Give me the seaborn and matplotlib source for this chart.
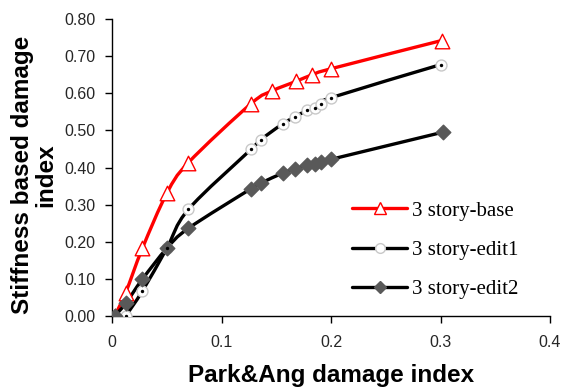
import matplotlib
matplotlib.use("Agg")
import numpy as np
import pandas as pd
import seaborn as sns
import matplotlib.pyplot as plt
from matplotlib.path import Path
from matplotlib.patches import PathPatch
from matplotlib.lines import Line2D

# Park&Ang damage index (x) vs stiffness based damage index (y)
base_x = [0.0025, 0.0125, 0.0277, 0.050, 0.0697, 0.127, 0.146, 0.168, 0.183, 0.200, 0.301]
base_y = [0.000, 0.063, 0.182, 0.330, 0.413, 0.572, 0.606, 0.632, 0.650, 0.666, 0.742]

edit1_x = [0.0125, 0.0277, 0.050, 0.0697, 0.127, 0.136, 0.156, 0.167, 0.178, 0.185, 0.191, 0.200, 0.300]
edit1_y = [0.000, 0.067, 0.182, 0.287, 0.449, 0.475, 0.518, 0.536, 0.554, 0.561, 0.572, 0.588, 0.677]

edit2_x = [0.0025, 0.0125, 0.0277, 0.050, 0.0697, 0.127, 0.136, 0.156, 0.167, 0.178, 0.185, 0.191, 0.200, 0.302]
edit2_y = [0.000, 0.034, 0.099, 0.182, 0.236, 0.343, 0.358, 0.385, 0.396, 0.406, 0.410, 0.415, 0.422, 0.495]

series_names = ["3 story-base", "3 story-edit1", "3 story-edit2"]
x_ticks = [0, 0.1, 0.2, 0.3, 0.4]
x_tick_labels = ["0", "0.1", "0.2", "0.3", "0.4"]
y_ticks = [0.0, 0.1, 0.2, 0.3, 0.4, 0.5, 0.6, 0.7, 0.8]

sns.set_theme(style="white")
plt.rcParams["font.family"] = ["Liberation Sans", "DejaVu Sans"]

fig = plt.figure(figsize=(5.65, 3.87), dpi=100)
ax = fig.add_axes([112 / 565, 1 - 316 / 387, 438 / 565, 297 / 387])


def smooth_path(xs, ys, k=1 / 6):
    """Cubic Bezier path through the points (Catmull-Rom style smoothing)."""
    pts = np.column_stack([xs, ys]).astype(float)
    n = len(pts)
    verts = [pts[0]]
    codes = [Path.MOVETO]
    for i in range(n - 1):
        p0 = pts[i - 1] if i > 0 else pts[i]
        p1 = pts[i]
        p2 = pts[i + 1]
        p3 = pts[i + 2] if i + 2 < n else pts[i + 1]
        c1 = p1 + (p2 - p0) * k
        c2 = p2 - (p3 - p1) * k
        verts += [c1, c2, p2]
        codes += [Path.CURVE4] * 3
    return Path(verts, codes)


series = [
    dict(x=base_x, y=base_y, color="#ff0000", marker="^", face="white", edge="#ff0000", size=110, ms=8),
    dict(x=edit1_x, y=edit1_y, color="black", marker="o", face="white", edge="#c8c8c8", size=62, ms=7),
    dict(x=edit2_x, y=edit2_y, color="black", marker="D", face="#595959", edge="#595959", size=55, ms=6),
]

handles = []
for name, s in zip(series_names, series):
    ax.add_patch(PathPatch(smooth_path(s["x"], s["y"]), fill=False,
                           edgecolor=s["color"], lw=2.4, zorder=2, capstyle="round"))
    df = pd.DataFrame({"x": s["x"], "y": s["y"]})
    sns.scatterplot(data=df, x="x", y="y", ax=ax, marker=s["marker"], s=s["size"],
                    facecolor=s["face"], edgecolor=s["edge"], linewidth=1.0, zorder=3)
    if s["marker"] == "o":
        sns.scatterplot(data=df, x="x", y="y", ax=ax, marker="o", s=6,
                        color="black", linewidth=0, zorder=4)
    handles.append(Line2D([], [], color=s["color"], lw=2.4, marker=s["marker"],
                          markersize=s["ms"], markerfacecolor=s["face"],
                          markeredgecolor=s["edge"], markeredgewidth=1.0))

ax.set_xlim(0, 0.4)
ax.set_ylim(0, 0.8)
ax.set_xticks(x_ticks)
ax.set_xticklabels(x_tick_labels)
ax.set_yticks(y_ticks)
ax.set_yticklabels([f"{v:.2f}" for v in y_ticks])
ax.tick_params(axis="both", bottom=True, left=True, direction="out", length=5, width=1,
               color="black", labelsize=11.5, labelcolor="#262626")
ax.tick_params(axis="x", pad=9)
ax.tick_params(axis="y", pad=7)
for side in ("top", "right"):
    ax.spines[side].set_visible(False)
for side in ("left", "bottom"):
    ax.spines[side].set_color("black")
    ax.spines[side].set_linewidth(1.0)

ax.set_xlabel("Park&Ang damage index", fontsize=17.5, fontweight="bold", labelpad=10,
              color="black")
ax.set_ylabel("Stiffness based damage\nindex", fontsize=17.5, fontweight="bold",
              labelpad=5, linespacing=1.0, color="black")
ax.yaxis.label.set_y(0.475)

leg = ax.legend(handles, series_names, loc="upper left", bbox_to_anchor=(0.548, 0.387),
                frameon=False, handlelength=2.65, labelspacing=0.95, handletextpad=0.25,
                borderpad=0, borderaxespad=0,
                prop={"family": "Liberation Serif", "size": 15})
for t in leg.get_texts():
    t.set_color("black")
ax.set_facecolor("white")

fig.savefig("out.png", dpi=100, facecolor="white")
